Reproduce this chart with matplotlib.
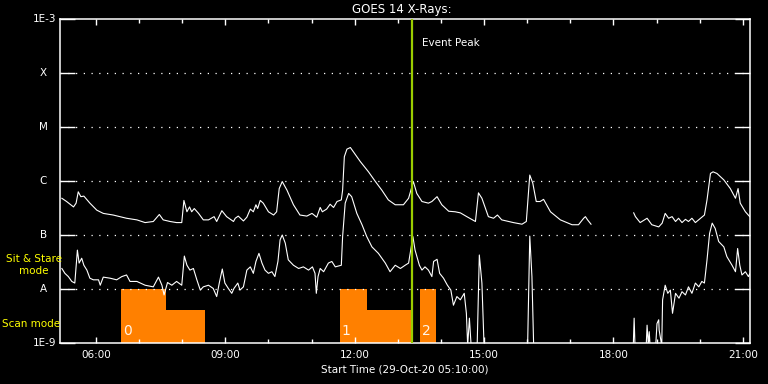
import numpy as np
import matplotlib
matplotlib.use("Agg")
import matplotlib.pyplot as plt

# ---------------- data ----------------
# times in decimal hours (29-Oct-20), flux as log10(W/m^2)
long_t = [5.21, 5.32, 5.48, 5.54, 5.59, 5.65, 5.72, 5.86, 6.02, 6.17, 6.40, 6.71, 6.95, 7.14, 7.33,
          7.47, 7.56, 7.72, 7.87, 7.99, 8.04, 8.11, 8.17, 8.22, 8.28, 8.38, 8.49, 8.61, 8.74, 8.80,
          8.92, 9.03, 9.19, 9.23, 9.30, 9.42, 9.50, 9.58, 9.65, 9.71, 9.75, 9.81, 9.88, 10.00, 10.12,
          10.19, 10.25, 10.32, 10.43, 10.58, 10.73, 10.89, 11.01, 11.12, 11.20, 11.25, 11.35, 11.43,
          11.51, 11.59, 11.69, 11.72, 11.76, 11.82, 11.90, 11.97, 12.13, 12.32, 12.48, 12.63, 12.78,
          12.94, 13.13, 13.25, 13.36, 13.44, 13.56, 13.71, 13.79, 13.91, 14.02, 14.18, 14.33, 14.45,
          14.60, 14.80, 14.87, 14.95, 15.10, 15.22, 15.31, 15.41, 15.57, 15.68, 15.88, 15.98, 16.06,
          16.13, 16.21, 16.30, 16.38, 16.54, 16.77, 17.04, 17.19, 17.31, 17.35, 17.40, 17.48, 17.49,
          18.47, 18.51, 18.62, 18.78, 18.89, 19.05, 19.13, 19.20, 19.28, 19.36, 19.44, 19.51, 19.59,
          19.67, 19.74, 19.82, 19.90, 20.02, 20.11, 20.17, 20.25, 20.31, 20.40, 20.56, 20.71, 20.83,
          20.89, 20.94, 21.06, 21.16]
long_logf = [-6.32, -6.38, -6.48, -6.41, -6.20, -6.29, -6.28, -6.41, -6.54, -6.60, -6.63, -6.69, -6.72,
             -6.77, -6.75, -6.62, -6.72, -6.75, -6.77, -6.77, -6.36, -6.57, -6.48, -6.57, -6.51, -6.60,
             -6.72, -6.72, -6.66, -6.75, -6.55, -6.66, -6.75, -6.69, -6.65, -6.74, -6.67, -6.52, -6.57,
             -6.44, -6.51, -6.36, -6.41, -6.57, -6.63, -6.57, -6.14, -6.01, -6.17, -6.44, -6.63, -6.65,
             -6.60, -6.67, -6.49, -6.57, -6.52, -6.43, -6.49, -6.38, -6.35, -6.17, -5.55, -5.41, -5.38,
             -5.46, -5.64, -5.83, -6.01, -6.17, -6.35, -6.44, -6.44, -6.32, -6.01, -6.23, -6.38, -6.41,
             -6.38, -6.29, -6.44, -6.56, -6.57, -6.59, -6.66, -6.75, -6.22, -6.32, -6.66, -6.69, -6.63,
             -6.72, -6.75, -6.77, -6.80, -6.75, -5.89, -6.04, -6.38, -6.38, -6.34, -6.57, -6.72, -6.81,
             -6.81, -6.69, -6.66, -6.72, -6.80, np.nan,
             -6.59, -6.66, -6.77, -6.69, -6.81, -6.85, -6.78, -6.60, -6.69, -6.66, -6.75, -6.69, -6.77,
             -6.71, -6.75, -6.69, -6.77, -6.69, -6.63, -6.35, -5.86, -5.83, -5.86, -5.98, -6.14, -6.32,
             -6.14, -6.41, -6.57, -6.66]

short_t = [5.21, 5.28, 5.36, 5.44, 5.51, 5.57, 5.61, 5.67, 5.72, 5.79, 5.86, 5.94, 6.06, 6.10, 6.17,
           6.33, 6.48, 6.60, 6.71, 6.79, 6.95, 7.14, 7.33, 7.45, 7.53, 7.58, 7.66, 7.76, 7.87, 7.99,
           8.05, 8.11, 8.18, 8.26, 8.34, 8.42, 8.49, 8.61, 8.72, 8.80, 8.86, 8.93, 8.99, 9.07, 9.15,
           9.20, 9.29, 9.34, 9.42, 9.50, 9.58, 9.65, 9.71, 9.78, 9.85, 9.92, 10.00, 10.08, 10.15,
           10.22, 10.27, 10.32, 10.39, 10.46, 10.58, 10.70, 10.81, 10.93, 11.02, 11.08, 11.11, 11.15,
           11.20, 11.28, 11.39, 11.47, 11.55, 11.69, 11.72, 11.78, 11.86, 11.93, 12.05, 12.17, 12.28,
           12.40, 12.55, 12.71, 12.82, 12.94, 13.06, 13.17, 13.25, 13.35, 13.40, 13.50, 13.56, 13.63,
           13.71, 13.79, 13.83, 13.91, 13.97, 14.06, 14.15, 14.23, 14.29, 14.37, 14.45, 14.54, 14.59,
           14.62, 14.66, 14.70, 14.84, 14.89, 14.95, 15.00, 16.01, 16.06, 16.11, 16.15, 18.46, 18.48,
           18.50, 18.76, 18.78, 18.81, 18.83, 18.85, 18.98, 19.01, 19.05, 19.06, 19.12, 19.14, 19.20,
           19.26, 19.32, 19.37, 19.44, 19.52, 19.59, 19.67, 19.74, 19.82, 19.90, 19.98, 20.05, 20.11,
           20.17, 20.23, 20.29, 20.36, 20.44, 20.56, 20.63, 20.75, 20.83, 20.88, 20.93, 20.98, 21.06,
           21.13, 21.16]
short_logf = [-7.62, -7.71, -7.77, -7.86, -7.89, -7.28, -7.52, -7.43, -7.56, -7.65, -7.80, -7.83, -7.83,
              -7.93, -7.78, -7.80, -7.83, -7.77, -7.74, -7.86, -7.86, -7.93, -7.96, -7.78, -7.93, -8.11,
              -7.88, -7.93, -7.86, -7.93, -7.39, -7.56, -7.65, -7.62, -7.83, -8.02, -7.96, -7.93, -7.99,
              -8.14, -7.89, -7.63, -7.89, -7.99, -8.08, -7.99, -7.89, -8.02, -7.96, -7.65, -7.59, -7.71,
              -7.49, -7.34, -7.52, -7.65, -7.71, -7.68, -7.77, -7.49, -7.09, -7.00, -7.15, -7.46, -7.56,
              -7.62, -7.59, -7.65, -7.59, -7.71, -8.08, -7.77, -7.62, -7.68, -7.52, -7.49, -7.59, -7.56,
              -7.03, -6.41, -6.23, -6.29, -6.60, -6.81, -7.03, -7.22, -7.34, -7.52, -7.68, -7.56, -7.62,
              -7.56, -7.52, -7.03, -7.28, -7.56, -7.65, -7.59, -7.65, -7.77, -7.49, -7.45, -7.71, -7.80,
              -7.93, -8.02, -8.30, -8.14, -8.20, -8.08, -8.45, -9.05, -8.54, -9.05, -9.05, -7.37, -7.89,
              -9.05, -9.05, -7.02, -7.77, -9.05, -9.05, -8.54, -9.05, -9.05, -8.67, -9.05, -8.79, -9.05,
              -9.05, -8.64, -8.57, -8.76, -9.05, -8.20, -7.93, -8.08, -8.02, -8.45, -8.08, -8.17, -8.05,
              -8.11, -7.96, -8.08, -7.89, -7.96, -7.86, -7.89, -7.46, -6.97, -6.78, -6.88, -7.12, -7.22,
              -7.40, -7.56, -7.68, -7.25, -7.56, -7.74, -7.68, -7.77, -7.72]

# instrument mode blocks: (start, end, log10 top level)
mode_start = [6.58, 7.62, 11.66, 12.28, 13.52]
mode_end = [7.62, 8.53, 12.28, 13.33, 13.88]
mode_level = [-8.0, -8.39, -8.0, -8.39, -8.0]
mode_num_t = [6.58, 11.66, 13.52]
mode_num_lbl = ["0", "1", "2"]

event_peak = 13.33
t_start, t_end = 5.1667, 21.1667
xtick_hours = [6, 9, 12, 15, 18, 21]
ytick_exp = [-9, -8, -7, -6, -5, -4, -3]
ytick_lbl = ["1E-9", "A", "B", "C", "M", "X", "1E-3"]

# ---------------- plot ----------------
W, H = 768, 384
fig = plt.figure(figsize=(W / 100, H / 100), dpi=100, facecolor="black")
L, R, T, B = 60, 750, 19, 343
ax = fig.add_axes([L / W, 1 - B / H, (R - L) / W, (B - T) / H], facecolor="black")
ax.set_yscale("log")
ax.set_xlim(t_start, t_end)
ax.set_ylim(1e-9, 1e-3)

orange = "#ff8000"
for s, e, lv in zip(mode_start, mode_end, mode_level):
    ax.bar(s, 10 ** lv - 1e-9, bottom=1e-9, width=e - s, align="edge",
           color=orange, linewidth=0, zorder=1)
for t, lab in zip(mode_num_t, mode_num_lbl):
    ax.text(t + 0.04, 1.25e-9, lab, color="#fff4e8", fontsize=10, ha="left",
            va="bottom", zorder=2)

# dotted grid at the class levels
for ex in ytick_exp[1:-1]:
    ax.axhline(10.0 ** ex, color="white", lw=0.9, ls=(0, (1, 5.2)), zorder=1.5)

ax.plot(long_t, 10 ** np.array(long_logf, dtype=float), color="white", lw=0.8, zorder=3)
ax.plot(short_t, 10 ** np.array(short_logf, dtype=float), color="white", lw=0.8, zorder=3)

ax.axvline(event_peak, color="#9acd00", lw=1.6, zorder=4)
ax.text(event_peak + 0.24, 10 ** -3.45, "Event Peak", color="white", fontsize=7.5,
        va="center", ha="left")

for sp in ax.spines.values():
    sp.set_color("white")
    sp.set_linewidth(1.1)

ax.set_xticks(xtick_hours)
ax.set_xticklabels(["%02d:00" % h for h in xtick_hours])
ax.set_xticks(np.arange(6, 22, 1), minor=True)
ax.tick_params(axis="x", which="major", direction="in", length=4.5, width=1,
               color="white", labelcolor="white", labelsize=7.5, top=True, pad=5)
ax.tick_params(axis="x", which="minor", direction="in", length=3, width=1,
               color="white", top=True)

ax.set_yticks([10.0 ** e for e in ytick_exp])
ax.set_yticklabels([])
ax.yaxis.set_minor_locator(matplotlib.ticker.NullLocator())
ax.tick_params(axis="y", which="major", direction="in", length=10.5, width=1,
               color="white", right=True)
ytr = ax.get_yaxis_transform()
for e, lab in zip(ytick_exp, ytick_lbl):
    if len(lab) > 1:
        ax.text(-0.005, 10.0 ** e, lab, transform=ytr, color="white", fontsize=7.5,
                ha="right", va="center")
    else:
        ax.text(-0.024, 10.0 ** e, lab, transform=ytr, color="white", fontsize=7.5,
                ha="center", va="center")

fig.text(402 / W, 1 - 10 / H, "GOES 14 X-Rays:", color="white", fontsize=8.5,
         ha="center", va="center")
fig.text(405 / W, 1 - 370 / H, "Start Time (29-Oct-20 05:10:00)", color="white",
         fontsize=7.5, ha="center", va="center")
fig.text(34 / W, 1 - 259 / H, "Sit & Stare", color="yellow", fontsize=7.5,
         ha="center", va="center")
fig.text(34 / W, 1 - 271 / H, "mode", color="yellow", fontsize=7.5,
         ha="center", va="center")
fig.text(2 / W, 1 - 324 / H, "Scan mode", color="yellow", fontsize=7.5,
         ha="left", va="center")

fig.savefig("out.png", dpi=100, facecolor="black")
